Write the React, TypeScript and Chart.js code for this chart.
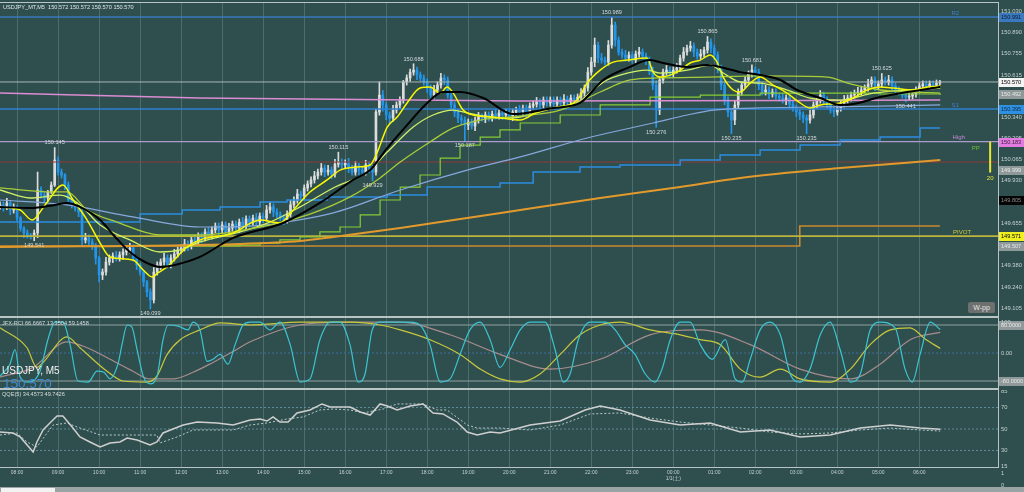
import React, { useEffect, useRef } from "react";
import { Chart, registerables } from "chart.js";

Chart.register(...registerables);

const FONT = '"Liberation Sans", "DejaVu Sans", "Noto Sans CJK JP", sans-serif';

// ---------------- time axis ----------------
const X_MIN = 0;
const X_MAX = 292;
const hourTicks = [5, 17, 29, 41, 53, 65, 77, 89, 101, 113, 125, 137, 149, 161, 173, 185, 197, 209, 221, 233, 245, 257, 269];
const hourLabels = ["08:00", "09:00", "10:00", "11:00", "12:00", "13:00", "14:00", "15:00", "16:00", "17:00", "18:00", "19:00", "20:00", "21:00", "22:00", "23:00", "00:00", "01:00", "02:00", "03:00", "04:00", "05:00", "06:00"];
const dateLabel = "1/1(土)";
const dateTick = 197;

// ---------------- price axis ----------------
const P_MIN = 149.053;
const P_MAX = 151.082;
const priceTicks = [151.03, 150.89, 150.755, 150.615, 150.475, 150.34, 150.205, 150.065, 149.93, 149.795, 149.655, 149.515, 149.38, 149.24, 149.105];

// ---------------- candles (M5) ----------------
const PIP = 0.01;
const firstOpen = 149.765;
const closes = [
  149.773, 149.753, 149.786, 149.740, 149.760,
  149.688, 149.623, 149.591, 149.578, 149.572, 149.591, 149.870, 149.837, 149.818, 149.857, 149.902, 150.064,
  149.986, 149.967, 149.902, 149.805, 149.773, 149.753, 149.727, 149.546, 149.559, 149.533, 149.513, 149.429,
  149.319, 149.338, 149.403, 149.429, 149.442, 149.429, 149.449, 149.468, 149.481, 149.494, 149.429, 149.384,
  149.338, 149.274, 149.209, 149.157, 149.338, 149.384, 149.403, 149.429, 149.384, 149.429, 149.455, 149.481,
  149.494, 149.520, 149.507, 149.546, 149.533, 149.572, 149.559, 149.598, 149.572, 149.611, 149.636, 149.611,
  149.643, 149.598, 149.623, 149.649, 149.623, 149.662, 149.636, 149.682, 149.662, 149.688, 149.662, 149.701,
  149.688, 149.740, 149.760, 149.727, 149.708, 149.688, 149.675, 149.714, 149.773, 149.805, 149.844, 149.831,
  149.883, 149.909, 149.935, 149.961, 149.986, 150.012, 149.986, 149.999, 149.973, 150.038, 150.051, 150.032,
  150.045, 150.012, 149.986, 150.025, 149.999, 149.986, 150.032, 150.012, 149.986, 150.375, 150.485, 150.421,
  150.356, 150.336, 150.388, 150.421, 150.453, 150.570, 150.596, 150.634, 150.647, 150.615, 150.596, 150.570,
  150.531, 150.485, 150.518, 150.550, 150.596, 150.583, 150.485, 150.421, 150.375, 150.336, 150.323, 150.291,
  150.310, 150.285, 150.323, 150.343, 150.336, 150.356, 150.336, 150.362, 150.349, 150.369, 150.356, 150.375,
  150.349, 150.375, 150.388, 150.375, 150.401, 150.375, 150.414, 150.427, 150.440, 150.421, 150.453, 150.434,
  150.453, 150.427, 150.453, 150.434, 150.459, 150.440, 150.466, 150.453, 150.472, 150.498, 150.531, 150.634,
  150.699, 150.809, 150.725, 150.712, 150.699, 150.809, 150.939, 150.842, 150.764, 150.745, 150.725, 150.745,
  150.712, 150.751, 150.764, 150.738, 150.712, 150.647, 150.550, 150.388, 150.583, 150.634, 150.647, 150.621,
  150.647, 150.660, 150.725, 150.764, 150.790, 150.803, 150.764, 150.738, 150.751, 150.777, 150.829, 150.790,
  150.745, 150.660, 150.550, 150.453, 150.375, 150.323, 150.421, 150.505, 150.550, 150.583, 150.621, 150.647,
  150.634, 150.550, 150.505, 150.518, 150.492, 150.505, 150.479, 150.466, 150.453, 150.466, 150.427, 150.401,
  150.375, 150.356, 150.336, 150.323, 150.356, 150.421, 150.453, 150.485, 150.453, 150.421, 150.388, 150.375,
  150.401, 150.427, 150.453, 150.466, 150.485, 150.498, 150.505, 150.518, 150.531, 150.557, 150.583, 150.544,
  150.557, 150.583, 150.570, 150.583, 150.544, 150.518, 150.505, 150.485, 150.472, 150.479, 150.492, 150.518,
  150.544, 150.557, 150.544, 150.557, 150.550, 150.563, 150.570,
];
// upper / lower wick lengths in pips
const upWick = [
  2, 2, 3, 1, 2,
  1, 1, 1, 2, 1, 2, 11.6, 2, 2, 1, 2, 8.1,
  2, 2, 1, 2, 1, 2, 1, 2, 3, 2, 2, 1,
  1, 2, 3, 2, 2, 3, 2, 2, 2, 3, 2, 1,
  1, 1, 1, 2, 3, 2, 2, 3, 2, 2, 3, 2,
  2, 3, 2, 2, 3, 2, 2, 2, 3, 2, 2, 2,
  2, 2, 3, 2, 2, 2, 3, 2, 2, 2, 3, 2,
  2, 3, 3, 2, 2, 2, 2, 2, 3, 2, 3, 2,
  2, 2, 2, 3, 2, 3, 2, 3, 2, 3, 6.4, 2,
  2, 3, 2, 3, 2, 2, 3, 2, 2, 2, 8.5, 3,
  2, 2, 3, 2, 2, 1, 2, 2, 4.1, 2, 2, 2,
  2, 2, 3, 2, 3, 2, 2, 2, 2, 2, 2, 2,
  2, 2, 2, 3, 2, 2, 2, 2, 3, 2, 2, 2,
  2, 2, 2, 3, 2, 2, 2, 2, 3, 2, 2, 2,
  2, 2, 2, 2, 3, 2, 2, 2, 2, 3, 2, 3,
  3, 4.6, 2, 3, 2, 3, 5, 2, 2, 2, 3, 2,
  2, 2, 3, 2, 2, 2, 2, 3, 2, 2, 3, 2,
  2, 3, 2, 3, 2, 3, 2, 2, 3, 2, 3.6, 2,
  2, 2, 2, 2, 2, 2, 3, 2, 2, 2, 2, 3.4,
  2, 2, 2, 3, 2, 2, 2, 2, 3, 2, 2, 2,
  2, 2, 2, 2, 3, 2, 2, 3, 2, 2, 2, 2,
  2, 2, 3, 2, 2, 2, 3, 2, 2, 3, 2, 2,
  2, 4.2, 2, 3, 2, 2, 2, 2, 2, 2, 2, 2,
  2, 2, 2, 2, 2, 2, 1,
];
const dnWick = [
  2, 2, 1, 3, 2,
  2, 2, 3, 2, 2, 3.1, 3, 2, 3, 2, 1, 1,
  2, 2, 3, 2, 2, 2, 3, 3, 2, 2, 3, 4,
  4.5, 3, 2, 2, 3, 2, 2, 3, 2, 2, 2, 3,
  2, 3, 3, 5.8, 2, 2, 3, 2, 2, 2, 2, 2,
  2, 2, 3, 2, 2, 2, 3, 2, 2, 2, 2, 3,
  2, 3, 2, 2, 2, 3, 2, 2, 3, 2, 2, 2,
  3, 2, 2, 3, 2, 2, 3, 2, 2, 2, 2, 3,
  2, 2, 2, 2, 2, 2, 3, 2, 3, 2, 2, 3,
  2, 3, 2, 2, 3, 2, 2, 3, 5.7, 2, 2, 4,
  3, 4, 2, 2, 2, 2, 2, 2, 2, 3, 2, 2,
  3, 3, 2, 2, 2, 3, 2, 3, 3, 3, 3, 10.4,
  3, 2, 3, 2, 2, 3, 2, 2, 2, 2, 3, 2,
  2, 3, 2, 2, 2, 3, 2, 2, 2, 3, 2, 2,
  2, 2, 2, 2, 2, 2, 3, 2, 2, 2, 2, 2,
  2, 3, 3, 2, 2, 2, 2, 4, 2, 2, 2, 2,
  2, 2, 2, 2, 3, 3, 3, 11.2, 3, 2, 2, 2,
  2, 2, 2, 2, 2, 2, 3, 2, 2, 2, 2, 3,
  3, 3, 3, 3, 3, 8.8, 3, 2, 2, 2, 2, 2,
  3, 3, 2, 2, 3, 2, 2, 2, 2, 3, 3, 2,
  3, 3, 3, 8.8, 2, 2, 2, 2, 3, 2, 2, 3,
  2, 2, 2, 2, 2, 2, 2, 2, 2, 2, 2, 3,
  2, 2, 2, 2, 3, 2, 2, 2, 3.1, 2, 2, 2,
  2, 2, 2, 2, 2, 2, 1,
];

// ---------------- moving averages (index, price) ----------------
const maFast = [[0,149.760],[5.9,149.740],[9.4,149.675],[13.2,149.773],[18.4,149.902],[21.4,149.805],[25.5,149.675],[29.3,149.526],[32.2,149.436],[38.9,149.416],[41.9,149.351],[44.5,149.306],[46.2,149.332],[48.9,149.371],[51.8,149.436],[54.7,149.500],[58.5,149.546],[68.2,149.591],[76.1,149.675],[81.9,149.656],[85.8,149.740],[90.7,149.857],[95.7,149.935],[99.5,149.999],[104.5,150.019],[108.3,150.032],[110.3,150.110],[113.3,150.278],[116.2,150.343],[119.1,150.434],[122.9,150.531],[125.8,150.537],[128.8,150.498],[130.8,150.537],[132.6,150.498],[135.5,150.388],[138.4,150.356],[144.3,150.343],[152.2,150.323],[157.2,150.375],[161.8,150.401],[168.9,150.453],[171.8,150.563],[175.6,150.647],[179.4,150.699],[183.5,150.712],[189.3,150.725],[191.1,150.634],[193.2,150.602],[198.1,150.634],[201.9,150.693],[204.9,150.712],[207.8,150.745],[209.8,150.699],[211.6,150.602],[214.5,150.518],[216.6,150.505],[219.5,150.563],[222.4,150.602],[226.2,150.550],[230.3,150.498],[234.1,150.434],[237.0,150.401],[240.0,150.421],[245.8,150.434],[249.6,150.466],[253.7,150.518],[257.5,150.537],[261.3,150.531],[267.2,150.518],[271.3,150.537],[275.1,150.544]];
const maMid = [[0,149.870],[8.8,149.818],[17.6,149.837],[23.4,149.773],[29.3,149.643],[38.0,149.546],[46.8,149.468],[52.7,149.481],[58.5,149.533],[70.2,149.598],[79.0,149.662],[87.8,149.760],[97.5,149.883],[107.4,149.986],[113.3,150.116],[120.9,150.278],[126.7,150.356],[132.6,150.388],[136.7,150.369],[146.3,150.336],[152.2,150.343],[161.8,150.401],[169.7,150.447],[173.5,150.518],[177.6,150.583],[181.4,150.615],[189.3,150.647],[193.2,150.628],[201.1,150.647],[207.8,150.680],[211.6,150.628],[216.6,150.570],[222.4,150.563],[230.3,150.518],[237.0,150.466],[245.8,150.453],[255.5,150.498],[265.4,150.518],[275.1,150.531]];
const maSlow = [[0,149.883],[15.5,149.857],[19.6,149.857],[25.5,149.740],[34.2,149.662],[46.8,149.578],[58.5,149.578],[76.1,149.630],[90.7,149.714],[102.4,149.825],[111.2,149.948],[117.1,150.051],[125.8,150.181],[132.6,150.272],[140.5,150.323],[152.2,150.349],[163.9,150.388],[175.6,150.505],[184.4,150.583],[193.2,150.596],[206.9,150.602],[222.4,150.609],[242.0,150.602],[248.8,150.557],[257.5,150.518],[275.1,150.498]];
const maBlack = [[0,149.760],[8.8,149.753],[16.1,149.773],[19.6,149.786],[23.4,149.760],[29.3,149.675],[33.7,149.565],[38.0,149.468],[42.4,149.403],[46.8,149.371],[51.2,149.384],[58.5,149.436],[68.2,149.559],[82.8,149.656],[93.6,149.786],[103.3,149.935],[108.3,149.999],[113.3,150.142],[119.1,150.291],[125.0,150.434],[129.6,150.505],[134.6,150.505],[141.4,150.466],[150.1,150.362],[161.8,150.401],[169.7,150.434],[176.5,150.583],[183.5,150.660],[190.2,150.712],[194.0,150.693],[201.1,150.667],[206.9,150.680],[210.7,150.667],[216.6,150.634],[222.4,150.615],[228.3,150.583],[233.2,150.518],[240.0,150.466],[245.8,150.421],[249.6,150.427],[257.5,150.472],[265.4,150.505],[275.1,150.537]];
const maGreenStep = [[52.7,149.507],[70.2,149.513],[76.1,149.526],[81.9,149.546],[87.8,149.565],[93.6,149.598],[99.5,149.630],[105.4,149.708],[111.2,149.805],[117.1,149.889],[122.9,149.967],[128.8,150.077],[134.6,150.161],[140.5,150.213],[146.3,150.259],[152.2,150.304],[163.9,150.356],[175.6,150.421],[190.2,150.472],[204.9,150.485],[222.4,150.498],[257.5,150.492],[275.1,150.485]];
const maSteel = [[0,149.805],[19.6,149.773],[38.9,149.695],[58.5,149.630],[73.2,149.636],[81.9,149.656],[97.5,149.721],[117.1,149.870],[136.7,149.999],[152.2,150.084],[171.8,150.207],[191.1,150.304],[201.1,150.356],[208.7,150.388],[220.4,150.401],[240.0,150.408],[257.5,150.414],[275.1,150.421]];
const maBlueStep = [[0,149.662],[41.0,149.714],[53.3,149.740],[64.4,149.760],[76.1,149.792],[84.0,149.805],[95.7,149.825],[113.3,149.837],[125.0,149.889],[146.3,149.915],[156.0,149.986],[169.7,150.019],[181.4,150.032],[199.0,150.064],[210.7,150.097],[222.4,150.129],[234.1,150.161],[245.8,150.194],[257.5,150.213],[269.2,150.272],[275.1,150.272]];
const maOrange = [[0,149.500],[70.2,149.520],[87.8,149.539],[97.5,149.565],[117.1,149.624],[136.7,149.688],[152.2,149.740],[175.6,149.818],[199.0,149.889],[216.6,149.948],[245.8,150.012],[275.1,150.064]];
const maPink = [[0,150.498],[58.5,150.466],[152.2,150.447],[275.1,150.453]];

// ---------------- horizontal levels ----------------
const R2 = 150.991;
const S1 = 150.395;
const HIGH = 150.183;
const RED_LEVEL = 150.051;
const PIVOT = 149.571;
const LAST = 150.570;
const orangeLevel = [[0,149.507],[234,149.636],[275,149.636]];

// ---------------- labels ----------------
const extremes = [
  { i: 179, p: 150.989, up: true }, { i: 207, p: 150.865, up: true }, { i: 121, p: 150.688, up: true },
  { i: 220, p: 150.681, up: true }, { i: 258, p: 150.625, up: true }, { i: 16, p: 150.145, up: true },
  { i: 99, p: 150.115, up: true }, { i: 109, p: 149.929, up: false }, { i: 136, p: 150.187, up: false },
  { i: 192, p: 150.276, up: false }, { i: 214, p: 150.235, up: false }, { i: 236, p: 150.235, up: false },
  { i: 265, p: 150.441, up: false }, { i: 10, p: 149.541, up: false }, { i: 44, p: 149.099, up: false },
];
const lineTags = [
  { t: "R2", i: 279.5, p: R2, c: "#3f7fc8", dy: -4 },
  { t: "S1", i: 279.5, p: S1, c: "#3f7fc8", dy: -4 },
  { t: "High", i: 280.5, p: HIGH, c: "#c88ad8", dy: -4 },
  { t: "PP", i: 285.5, p: 150.142, c: "#6cc030", dy: 0 },
  { t: "PIVOT", i: 281.5, p: PIVOT, c: "#c8cc38", dy: -4 },
  { t: "20", i: 289.7, p: 149.945, c: "#e8e830", dy: 0 },
];
const pipBar = { i: 289.7, from: 150.183, to: 149.983 };
const axisBoxes = [
  { p: 150.991, bg: "#3a78c0", fg: "#0c1c2c", t: "150.991" },
  { p: 150.570, bg: "#f4f4f4", fg: "#000000", t: "150.570" },
  { p: 150.492, bg: "#8f9999", fg: "#e8e8e8", t: "150.492" },
  { p: 150.395, bg: "#2f8fe0", fg: "#0a2a4a", t: "150.395" },
  { p: 150.183, bg: "#e27ce2", fg: "#402040", t: "150.183" },
  { p: 149.999, bg: "#8f9999", fg: "#e8e8e8", t: "149.999" },
  { p: 149.805, bg: "#050505", fg: "#8a8a8a", t: "149.805" },
  { p: 149.571, bg: "#f0f020", fg: "#000000", t: "149.571" },
  { p: 149.507, bg: "#8f9999", fg: "#e8e8e8", t: "149.507" },
];

// ---------------- RCI pane ----------------
const rciFast = [[0,-66],[2.9,-32],[4.4,10],[5.9,-69],[8.2,-83],[11.7,-52],[14.0,38],[16.1,88],[18.4,88],[20.5,24],[22.8,-80],[25.8,-83],[28.4,-52],[30.4,-55],[32.2,-74],[34.5,-32],[35.7,24],[37.2,80],[38.6,74],[40.1,10],[41.9,-66],[43.9,-88],[45.9,-69],[47.7,38],[49.2,80],[52.1,77],[55.0,66],[56.5,88],[58.5,66],[60.6,-24],[62.3,-18],[64.4,-4],[66.7,-32],[68.8,24],[71.1,80],[73.2,88],[76.1,88],[79.0,66],[81.9,88],[84.9,24],[87.8,-83],[90.7,-74],[93.6,38],[96.6,88],[99.5,88],[102.4,24],[104.8,-83],[106.8,-60],[108.9,66],[111.2,88],[120.0,88],[122.9,80],[125.8,24],[128.8,-83],[131.7,-74],[134.6,-4],[137.5,66],[140.5,88],[143.4,38],[146.3,-41],[149.3,10],[152.2,66],[155.1,88],[159.5,88],[162.4,10],[164.8,-83],[166.8,-60],[169.2,38],[172.7,88],[177.1,88],[180.0,66],[182.9,24],[185.8,-4],[188.8,-60],[191.7,-83],[193.7,-46],[196.1,38],[199.0,88],[201.9,88],[204.9,24],[208.4,-18],[212.2,38],[215.1,-74],[217.2,-83],[219.5,-18],[222.4,66],[225.3,88],[228.3,52],[231.2,-60],[234.1,-83],[237.0,-46],[240.0,52],[242.9,88],[245.8,10],[248.8,-83],[251.7,-60],[254.6,66],[257.5,88],[261.9,72],[264.8,-46],[266.9,-83],[269.2,-4],[272.2,88],[275.1,67]];
const rciMid = [[0,72],[7.9,15],[10.8,-41],[12.6,-27],[19.6,46],[23.4,15],[31.3,-52],[36.0,-80],[43.0,-83],[45.9,-66],[48.9,-4],[52.7,38],[58.5,66],[64.4,86],[73.2,80],[87.8,88],[102.4,88],[111.2,80],[117.1,66],[125.8,38],[134.6,-4],[140.5,-46],[146.3,-74],[152.2,-83],[158.0,-60],[163.9,-4],[169.7,52],[175.6,80],[181.4,88],[190.2,66],[199.0,52],[204.9,38],[210.7,24],[216.6,-46],[222.4,-69],[228.3,-46],[234.1,-74],[242.9,-83],[248.8,-46],[254.6,24],[260.5,66],[266.3,72],[270.7,40],[275.1,13]];
const rciSlow = [[0,-69],[9.7,-41],[19.6,32],[25.5,15],[32.2,-18],[38.9,-52],[43.9,-74],[50.6,-74],[56.5,-55],[62.3,-27],[68.2,4],[73.2,32],[87.8,80],[102.4,88],[117.1,88],[131.7,52],[146.3,-4],[161.0,-46],[175.6,-18],[190.2,52],[204.9,66],[219.5,24],[234.1,-46],[248.8,-74],[257.5,-32],[266.3,38],[275.1,59]];
const rciLevels = [80, 0, -80];

// ---------------- QQE pane ----------------
const qqeMain = [[0,47.2],[3.8,46.3],[5.9,42.6],[9.7,28.6],[10.8,37.9],[12.6,49.1],[14.6,55.6],[16.7,62.1],[18.4,62.1],[21.1,51.9],[23.4,42.6],[26.3,37.9],[29.3,33.3],[32.2,37.0],[35.1,37.9],[37.2,41.6],[40.1,39.8],[43.9,35.1],[45.9,37.9],[47.7,46.3],[50.6,50.0],[53.6,53.7],[57.7,56.5],[63.5,55.6],[68.2,53.7],[73.2,58.4],[76.1,59.3],[78.1,57.4],[79.9,61.2],[81.9,56.5],[84.3,56.5],[86.9,64.9],[90.7,67.7],[94.2,73.3],[96.6,70.5],[102.4,70.5],[105.4,65.8],[108.3,63.0],[111.2,73.3],[113.3,71.4],[116.2,67.7],[120.0,71.4],[123.8,73.3],[126.7,64.9],[129.6,64.0],[133.7,56.5],[136.7,47.2],[139.6,44.4],[143.4,47.2],[146.3,46.3],[155.1,53.7],[163.9,57.4],[171.2,67.7],[175.6,71.4],[181.4,67.7],[190.2,58.4],[199.0,53.7],[207.8,55.6],[216.6,47.2],[225.3,49.1],[234.1,42.6],[242.9,44.4],[251.7,50.9],[260.5,53.7],[269.2,50.9],[275.1,49.7]];
const qqeSignal = [[0,44.4],[5.0,46.3],[7.9,37.9],[10.8,33.3],[13.8,46.3],[15.5,53.7],[19.6,55.6],[23.4,50.9],[29.3,44.4],[45.9,44.4],[46.8,37.0],[51.8,42.6],[56.5,49.1],[68.2,49.1],[73.2,53.7],[78.1,55.6],[84.0,59.3],[88.7,61.2],[93.6,67.7],[97.5,68.6],[102.4,67.7],[106.2,64.9],[112.1,68.6],[116.2,73.3],[123.8,73.3],[127.9,67.7],[130.8,67.7],[136.7,53.7],[139.6,50.9],[146.3,50.9],[155.1,49.1],[163.9,53.7],[172.7,64.0],[181.4,64.9],[190.2,60.2],[199.0,56.5],[207.8,53.7],[216.6,50.9],[225.3,47.2],[234.1,45.4],[242.9,46.3],[251.7,49.1],[260.5,50.9],[269.2,49.1],[275.1,48.1]];
const qqeLevels = [70, 50, 30];
const qqeTicks = [85, 70, 50, 30, 15];

// ---------------- helpers ----------------
const GRID = "rgba(150,178,178,0.30)";
const TICK_COLOR = "#c6d0d0";
const pts = (a: number[][]) => a.map(([x, y]) => ({ x, y }));
const hline = (p: number) => [{ x: X_MIN, y: p }, { x: X_MAX, y: p }];

function lineDs(data: any[], color: string, width: number, extra: any = {}) {
  return {
    type: "line",
    data,
    borderColor: color,
    backgroundColor: color,
    borderWidth: width,
    pointRadius: 0,
    fill: false,
    tension: 0,
    order: 1,
    ...extra,
  };
}

function xScale(height: number, showLabels: boolean) {
  return {
    type: "linear",
    min: X_MIN,
    max: X_MAX,
    offset: false,
    afterBuildTicks: (s: any) => {
      s.ticks = hourTicks.map((v) => ({ value: v }));
    },
    afterFit: (s: any) => {
      s.height = height;
      s.paddingLeft = 0;
      s.paddingRight = 0;
    },
    grid: { display: true, color: GRID, lineWidth: 1, drawTicks: false, offset: false },
    border: { display: false },
    ticks: {
      display: showLabels,
      autoSkip: false,
      maxRotation: 0,
      minRotation: 0,
      padding: 3,
      color: TICK_COLOR,
      font: { size: 5, family: FONT },
      callback: (v: any) => {
        const k = hourTicks.indexOf(Number(v));
        const lbl = k >= 0 ? hourLabels[k] : "";
        return Number(v) === dateTick ? [lbl, dateLabel] : lbl;
      },
    },
  };
}

function yScale(min: number, max: number, ticks: number[], fmt: (v: number) => string) {
  return {
    type: "linear",
    position: "right",
    min,
    max,
    afterFit: (s: any) => {
      s.width = 26;
      s.paddingTop = 0;
      s.paddingBottom = 0;
    },
    afterBuildTicks: (s: any) => {
      s.ticks = ticks.map((v) => ({ value: v }));
    },
    grid: { display: false, drawTicks: false },
    border: { display: false },
    ticks: {
      color: TICK_COLOR,
      padding: 3,
      font: { size: 5.8, family: FONT },
      callback: (v: any) => fmt(Number(v)),
    },
  };
}

function drawBox(ctx: any, y: number, bg: string, fg: string, t: string) {
  ctx.fillStyle = bg;
  ctx.fillRect(999, Math.round(y) - 4, 25, 9);
  ctx.fillStyle = fg;
  ctx.font = `5.6px ${FONT}`;
  ctx.textAlign = "left";
  ctx.textBaseline = "middle";
  ctx.fillText(t, 1001, Math.round(y) + 0.5);
}

const mainOverlay = {
  id: "mainOverlay",
  afterDatasetsDraw(chart: any) {
    const { ctx } = chart;
    const x = chart.scales.x;
    const y = chart.scales.y;
    ctx.save();
    ctx.font = `5.6px ${FONT}`;
    ctx.fillStyle = "#d4d8d8";
    ctx.textAlign = "center";
    for (const e of extremes) {
      const px = x.getPixelForValue(e.i);
      const py = y.getPixelForValue(e.p);
      ctx.textBaseline = e.up ? "bottom" : "top";
      ctx.fillText(e.p.toFixed(3), px, e.up ? py - 2 : py + 2);
    }
    ctx.strokeStyle = "#e8e830";
    ctx.lineWidth = 2;
    ctx.beginPath();
    const bx = x.getPixelForValue(pipBar.i);
    ctx.moveTo(bx, y.getPixelForValue(pipBar.from));
    ctx.lineTo(bx, y.getPixelForValue(pipBar.to));
    ctx.stroke();
    ctx.font = `6px ${FONT}`;
    for (const t of lineTags) {
      ctx.fillStyle = t.c;
      ctx.textBaseline = "middle";
      ctx.fillText(t.t, x.getPixelForValue(t.i), y.getPixelForValue(t.p) + t.dy);
    }
    ctx.restore();
  },
  afterDraw(chart: any) {
    const { ctx } = chart;
    const y = chart.scales.y;
    ctx.save();
    for (const b of axisBoxes) drawBox(ctx, y.getPixelForValue(b.p), b.bg, b.fg, b.t);
    ctx.restore();
  },
};

const rciOverlay = {
  id: "rciOverlay",
  afterDraw(chart: any) {
    const { ctx } = chart;
    const y = chart.scales.y;
    ctx.save();
    drawBox(ctx, y.getPixelForValue(80), "#8f9999", "#e8e8e8", "80.0000");
    drawBox(ctx, y.getPixelForValue(-80), "#8f9999", "#e8e8e8", "-80.0000");
    ctx.fillStyle = TICK_COLOR;
    ctx.font = `5.8px ${FONT}`;
    ctx.textBaseline = "top";
    ctx.fillText("100", 1001, 1);
    ctx.restore();
  },
};

export default function App() {
  const mainRef = useRef<HTMLCanvasElement>(null);
  const rciRef = useRef<HTMLCanvasElement>(null);
  const qqeRef = useRef<HTMLCanvasElement>(null);

  useEffect(() => {
    const opens = closes.map((c, i) => (i === 0 ? firstOpen : closes[i - 1]));
    const bodies = closes.map((c, i) => ({ x: i, y: [opens[i], c] }));
    const wicks = closes.map((c, i) => ({
      x: i,
      y: [Math.min(opens[i], c) - dnWick[i] * PIP, Math.max(opens[i], c) + upWick[i] * PIP],
    }));
    const candleColors = closes.map((c, i) => (c >= opens[i] ? "#dcdcdc" : "#2496ea"));

    const common = {
      responsive: false,
      animation: false,
      events: [],
      layout: { padding: 0, autoPadding: false },
      plugins: { legend: { display: false }, tooltip: { enabled: false } },
    };

    const main = new Chart(mainRef.current as HTMLCanvasElement, {
      type: "bar",
      data: {
        datasets: [
          lineDs(hline(R2), "#3a78c0", 1.5, { order: 3 }),
          lineDs(hline(S1), "#2f80d0", 1.5, { order: 3 }),
          lineDs(hline(HIGH), "#aa9ccc", 1.3, { order: 3 }),
          lineDs(hline(RED_LEVEL), "#8b3a3a", 1, { order: 3 }),
          lineDs(hline(PIVOT), "#bdb53c", 1.6, { order: 3 }),
          lineDs(pts(orangeLevel), "#cc8a2e", 1.6, { order: 3, stepped: true }),
          lineDs(hline(LAST), "#aab6b6", 1, { order: 3 }),
          lineDs(pts(maPink), "#dc8cd2", 1.5, { order: 2, cubicInterpolationMode: "monotone" }),
          lineDs(pts(maSteel), "#86a8dc", 1.2, { order: 2, cubicInterpolationMode: "monotone" }),
          lineDs(pts(maBlueStep), "#2c8de0", 1.5, { order: 2, stepped: true }),
          lineDs(pts(maOrange), "#e39a2c", 2, { order: 2, cubicInterpolationMode: "monotone" }),
          lineDs(pts(maGreenStep), "#86cc34", 1.2, { order: 2, stepped: true }),
          lineDs(pts(maSlow), "#a8cc38", 1.3, { order: 1, cubicInterpolationMode: "monotone" }),
          lineDs(pts(maMid), "#d2f064", 1.3, { order: 1, cubicInterpolationMode: "monotone" }),
          lineDs(pts(maBlack), "#000000", 2, { order: 0, cubicInterpolationMode: "monotone" }),
          lineDs(pts(maFast), "#f8f800", 1.5, { order: 0, cubicInterpolationMode: "monotone" }),
          {
            type: "bar",
            data: wicks,
            backgroundColor: candleColors,
            borderWidth: 0,
            barThickness: 1,
            grouped: false,
            order: 11,
          },
          {
            type: "bar",
            data: bodies,
            backgroundColor: candleColors,
            borderWidth: 0,
            barThickness: 2,
            minBarLength: 1,
            grouped: false,
            order: 10,
          },
        ] as any,
      },
      options: {
        ...common,
        scales: {
          x: xScale(0, false),
          y: yScale(P_MIN, P_MAX, priceTicks, (v) => v.toFixed(3)),
        },
      } as any,
      plugins: [mainOverlay],
    });

    const rci = new Chart(rciRef.current as HTMLCanvasElement, {
      type: "line",
      data: {
        datasets: [
          lineDs(hline(rciLevels[0]), "#8fa0a0", 1, { order: 5 }),
          lineDs(hline(rciLevels[1]), "#3f6f9f", 1, { order: 5, borderDash: [2, 2] }),
          lineDs(hline(rciLevels[2]), "#8fa0a0", 1, { order: 5 }),
          lineDs(pts(rciSlow), "#a88c8c", 1.2, { order: 3, cubicInterpolationMode: "monotone" }),
          lineDs(pts(rciMid), "#c8c83c", 1.2, { order: 2, cubicInterpolationMode: "monotone" }),
          lineDs(pts(rciFast), "#3cc4d2", 1.2, { order: 1, cubicInterpolationMode: "monotone" }),
        ] as any,
      },
      options: {
        ...common,
        scales: {
          x: xScale(0, false),
          y: yScale(-100, 100, [0], () => "0.00"),
        },
      } as any,
      plugins: [rciOverlay],
    });

    const qqe = new Chart(qqeRef.current as HTMLCanvasElement, {
      type: "line",
      data: {
        datasets: [
          ...qqeLevels.map((l) => lineDs(hline(l), "#5f8a9a", 1, { order: 5, borderDash: [2, 2] })),
          lineDs(pts(qqeSignal), "#b8c8c8", 1, { order: 2, borderDash: [2, 2] }),
          lineDs(pts(qqeMain), "#cfcfcf", 1.5, { order: 1 }),
        ] as any,
      },
      options: {
        ...common,
        scales: {
          x: xScale(20, true),
          y: yScale(14.65, 86.28, qqeTicks, (v) => String(v)),
        },
      } as any,
    });

    return () => {
      main.destroy();
      rci.destroy();
      qqe.destroy();
    };
  }, []);

  const abs = (l: number, t: number, w: number, h: number, extra: any = {}) => ({
    position: "absolute" as const,
    left: l,
    top: t,
    width: w,
    height: h,
    ...extra,
  });
  const frame = "#b9c5c5";

  return (
    <div
      style={{
        position: "fixed",
        left: 0,
        top: 0,
        width: 1024,
        height: 492,
        background: "#2f4f4f",
        overflow: "hidden",
        fontFamily: FONT,
      }}
    >
      <canvas ref={mainRef} width={1024} height={313} style={abs(0, 3, 1024, 313)} />
      <canvas ref={rciRef} width={1024} height={70} style={abs(0, 318, 1024, 70)} />
      <canvas ref={qqeRef} width={1024} height={97} style={abs(0, 390, 1024, 97)} />

      <div style={abs(0, 2, 999, 1, { background: frame })} />
      <div style={abs(0, 316, 999, 2, { background: frame })} />
      <div style={abs(0, 388, 999, 2, { background: frame })} />
      <div style={abs(0, 467, 999, 1, { background: frame })} />
      <div style={abs(998, 2, 1, 466, { background: frame })} />

      <div style={abs(3, 3, 300, 8, { color: "#e0e4e4", fontSize: 5.6, lineHeight: "8px", whiteSpace: "pre" })}>
        {"USDJPY_MT,M5  150.572 150.572 150.570 150.570"}
      </div>
      <div style={abs(2, 319, 300, 8, { color: "#d8dcdc", fontSize: 5.6, lineHeight: "8px", whiteSpace: "pre" })}>
        {"JFX-RCI 66.6667 13.3504 59.1458"}
      </div>
      <div style={abs(2, 390, 300, 8, { color: "#d8dcdc", fontSize: 5.6, lineHeight: "8px", whiteSpace: "pre" })}>
        {"QQE(5) 34.4573 49.7426"}
      </div>
      <div style={abs(2, 364, 120, 13, { color: "#f0f0f0", fontSize: 10, lineHeight: "13px" })}>USDJPY, M5</div>
      <div style={abs(3, 376, 120, 16, { color: "#3d86cf", fontSize: 13.5, lineHeight: "16px" })}>150.570</div>
      <div
        style={abs(968, 302, 27, 11, {
          background: "#6e7070",
          color: "#e6e6e6",
          fontSize: 7,
          lineHeight: "11px",
          textAlign: "center",
          borderRadius: 2,
        })}
      >
        W-pp
      </div>
      <div style={abs(1001, 469, 20, 8, { color: TICK_COLOR, fontSize: 5.8, lineHeight: "8px" })}>1</div>
      <div style={abs(1001, 481, 20, 8, { color: TICK_COLOR, fontSize: 5.8, lineHeight: "8px" })}>0</div>

      <div style={abs(0, 487, 1024, 5, { background: "#9aa4a4" })} />
      <div style={abs(1, 488, 54, 4, { background: "#f2f2f2" })} />
    </div>
  );
}
